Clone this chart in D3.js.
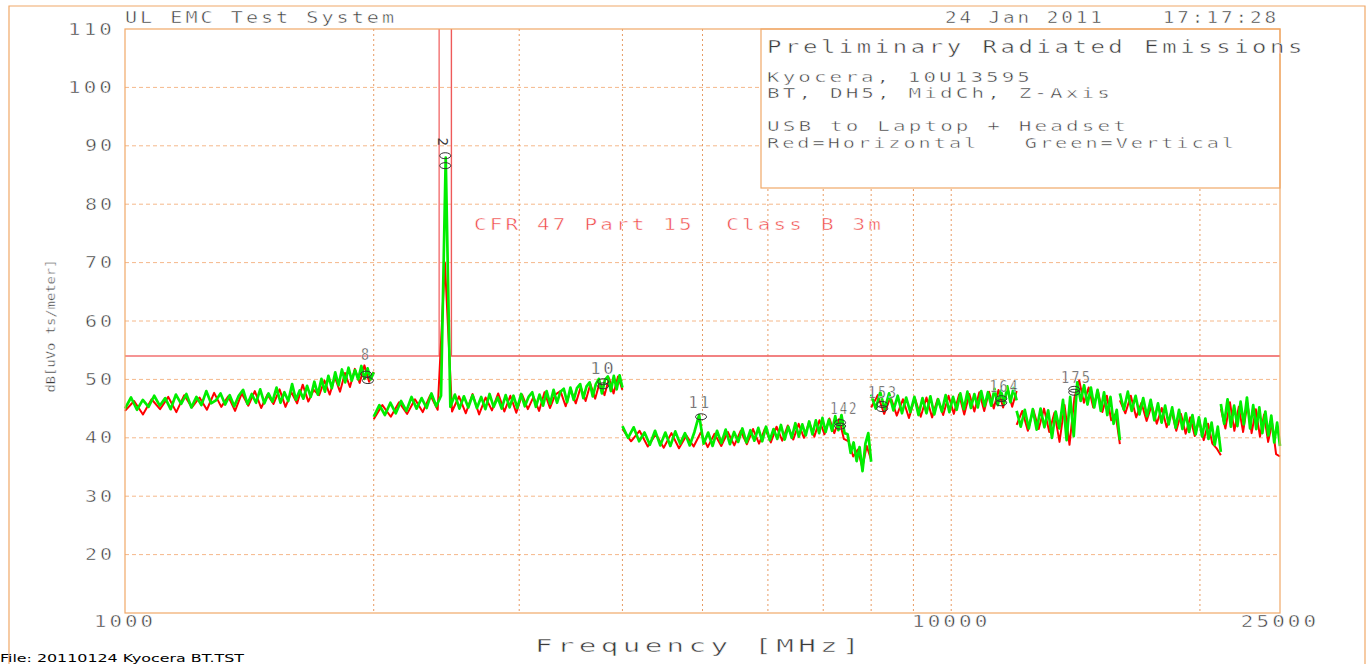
<!DOCTYPE html>
<html>
<head>
<meta charset="utf-8">
<script src="https://cdn.jsdelivr.net/npm/d3@7"></script>
<style>
  body { margin: 0; background: #fff; }
  svg { display: block; }
  text { white-space: pre; }
</style>
</head>
<body>
<div id="container"></div>
<script>
// sweep segments (MHz)
const segStart = [1000, 2000, 4000, 8000, 12000, 16000, 21200]
const segStop  = [2000, 4000, 8000, 12000, 16000, 21200, 25000]

// Vertical polarisation (green), dBuV/m, evenly spaced over each segment
const greenA = [45.0, 46.9, 44.8, 46.5, 45.3, 47.2, 45.5, 46.8, 44.9, 47.4,
  45.8, 47.5, 45.2, 47.0, 45.6, 48.0, 45.9, 46.4, 47.6, 45.7,
  47.3, 45.4, 47.2, 48.2, 45.8, 47.5, 46.0, 48.3, 45.9, 47.6,
  46.2, 48.6, 46.0, 47.8, 46.3, 49.2, 46.5, 48.1, 46.7, 48.9,
  47.0, 49.6, 47.4, 50.1, 47.9, 50.6, 48.5, 51.2, 49.0, 51.7,
  49.5, 52.0, 49.8, 51.6, 50.0, 52.3, 50.1, 51.9, 50.0, 51.2]
const greenB = [43.6, 45.6, 43.9, 46.0, 44.2, 46.3, 44.6, 47.0, 45.0, 46.8,
  45.1, 47.6, 45.4, 47.2, 88.0, 45.3, 47.4, 45.0, 47.1, 45.2,
  47.3, 45.1, 47.0, 44.9, 47.5, 45.3, 46.9, 45.0, 47.3, 45.2,
  47.2, 45.1, 47.5, 45.4, 47.0, 47.8, 45.3, 47.4, 45.5, 48.0,
  45.8, 48.2, 46.0, 47.9, 48.4, 46.1, 48.6, 46.5, 48.5, 49.2,
  46.8, 48.8, 49.5, 47.1, 49.2, 50.1, 47.6, 49.9, 50.5, 48.0,
  50.6, 48.3, 50.7, 48.6]
const greenC = [42.0, 40.0, 41.8, 39.4, 40.9, 38.8, 41.2, 38.7, 40.9, 38.6,
  41.1, 39.0, 40.8, 38.7, 41.0, 43.9, 39.0, 40.9, 38.6, 41.2,
  39.1, 41.4, 38.9, 41.0, 39.3, 41.6, 39.2, 41.3, 39.5, 41.7,
  39.4, 41.9, 39.6, 41.5, 39.8, 42.2, 39.7, 41.9, 40.0, 42.5,
  40.2, 42.3, 40.4, 42.8, 40.6, 43.0, 40.8, 43.4, 41.0, 43.1,
  41.2, 43.7, 41.3, 43.9, 40.8, 40.6, 37.4, 39.2, 36.0, 38.4,
  34.3, 39.0, 40.8, 35.9]
const greenD = [47.4, 45.0, 47.8, 44.9, 47.6, 44.7, 47.2, 44.2, 46.9, 44.4,
  47.0, 43.9, 46.8, 44.2, 47.1, 44.0, 46.6, 44.5, 47.3, 44.4,
  47.0, 44.8, 47.6, 44.9, 47.9, 45.1, 47.5, 45.2, 48.0, 45.4,
  47.8, 45.5, 48.4, 45.6, 48.1, 45.9, 48.8, 46.1, 48.5, 46.4]
const greenE = [44.6, 41.9, 44.8, 41.6, 44.9, 41.4, 45.0, 41.8, 44.7, 40.0,
  44.5, 41.6, 46.5, 39.6, 47.0, 40.3, 49.5, 46.3, 49.0, 45.7,
  48.6, 45.2, 48.2, 44.6, 47.8, 43.9, 47.0, 42.4, 44.8, 39.6]
const greenF = [47.6, 44.8, 47.9, 44.6, 47.2, 44.0, 46.8, 43.7, 46.5, 43.0,
  45.9, 42.6, 45.5, 42.3, 45.2, 41.7, 44.8, 41.5, 44.2, 41.0,
  43.9, 40.6, 43.5, 40.2, 43.3, 39.8, 42.6, 38.8, 41.9, 37.6]
const greenG = [45.8, 42.4, 46.6, 41.9, 45.5, 42.0, 46.2, 42.3, 46.9, 41.6,
  45.6, 41.5, 45.2, 40.8, 44.5, 40.4, 43.8, 39.2, 42.6, 38.6]

// Horizontal polarisation (red)
const redA = [44.6, 46.3, 44.0, 46.6, 44.9, 47.0, 44.4, 47.3, 45.2, 46.9,
  44.8, 47.7, 45.3, 47.1, 44.6, 47.6, 45.5, 48.0, 45.1, 47.4,
  45.8, 48.3, 45.3, 47.8, 45.9, 49.1, 46.2, 48.2, 47.3, 49.8,
  47.4, 50.4, 47.9, 51.1, 48.7, 51.8, 49.4, 52.4, 49.6, 51.3]
const redB = [43.2, 45.6, 43.6, 46.1, 44.1, 46.6, 44.4, 47.3, 44.8, 70.0,
  44.5, 47.1, 44.2, 47.5, 44.0, 46.9, 44.7, 47.6, 44.5, 47.2,
  44.3, 47.4, 44.9, 47.0, 44.6, 47.8, 45.1, 47.4, 48.0, 45.4,
  48.3, 45.9, 48.7, 46.3, 49.2, 46.7, 49.6, 47.3, 50.2, 47.6,
  50.5, 48.2]
const redC = [41.5, 39.4, 41.2, 38.5, 40.6, 38.3, 40.8, 38.2, 40.4, 38.5,
  40.9, 38.4, 40.7, 38.6, 41.0, 38.7, 41.2, 38.9, 41.5, 39.0,
  41.6, 39.2, 41.9, 39.5, 42.1, 39.7, 42.4, 40.0, 42.7, 40.2,
  43.0, 40.6, 43.3, 40.8, 43.2, 39.8, 39.4, 36.8, 38.0, 34.9,
  38.6, 36.2]
const redD = [45.2, 47.3, 44.1, 47.0, 43.8, 46.6, 43.4, 46.8, 43.6, 46.9,
  43.5, 46.7, 43.9, 47.2, 44.1, 47.4, 44.0, 47.5, 44.5, 47.8,
  44.6, 47.9, 45.0, 48.2, 45.2, 48.4, 45.3, 48.0]
const redE = [42.2, 44.6, 41.2, 44.8, 41.5, 45.0, 41.0, 44.3, 39.3, 45.6,
  38.8, 46.8, 49.8, 46.0, 48.6, 45.2, 48.1, 44.4, 47.2, 43.0,
  44.1, 38.9]
const redF = [46.4, 44.2, 47.2, 43.5, 46.0, 42.9, 45.6, 42.4, 45.1, 41.8,
  44.6, 41.2, 44.1, 40.7, 43.5, 40.3, 43.0, 39.6, 42.4, 39.0,
  38.2, 37.0]
const redG = [45.0, 41.6, 46.1, 41.2, 45.3, 41.0, 45.9, 40.8, 44.9, 40.2,
  44.0, 39.3, 42.5, 37.2, 36.8]

const greenSegs = [greenA, greenB, greenC, greenD, greenE, greenF, greenG]
const redSegs = [redA, redB, redC, redD, redE, redF, redG]

// FCC Part 15 class B limit, with the restricted band gap
const limitFreqA = [1000, 2400, 2400]
const limitLevA = [54, 54, 110]
const limitFreqB = [2483.5, 2483.5, 25000]
const limitLevB = [110, 54, 54]

// markers
const markerFreqs = [2441, 2441, 1958, 1968, 3791, 3791, 4980, 7337, 7337, 8251, 8251, 11497, 11497, 14088, 14088]
const markerLevels = [88.3, 86.6, 50.9, 49.8, 49.6, 48.9, 43.6, 42.6, 42.0, 45.7, 45.0, 46.7, 46.0, 48.3, 47.8]
const markerLabels = ["8", "10", "11", "142", "153", "164", "175"]
const markerLabelFreqs = [1958, 3791, 4966, 7424, 8270, 11603, 14178]
const markerLabelLevels = [54.2, 51.9, 46.0, 45.0, 47.8, 48.7, 50.4]
const markerLabelWidths = [10, 26, 23, 28, 30, 30, 31]

const yTicks = [20, 30, 40, 50, 60, 70, 80, 90, 100, 110]
const xTickVals = [1000, 10000, 25000]
const xGrid = [2000, 3000, 4000, 5000, 6000, 7000, 8000, 9000, 10000, 20000]

main()

function main() {
    const width = 1368
    const height = 664
    const left = 125, right = 1280, top = 29, bottom = 613

    const orange = "#f0a868"
    const font = "DejaVu Sans Mono, monospace"

    const x = d3.scaleLog().domain([1000, 25000]).range([left, right])
    const y = d3.scaleLinear().domain([10, 110]).range([bottom, top])

    const svg = d3.create("svg")
        .attr("width", width)
        .attr("height", height)

    // plotter-like text: stretched to a given length, thinned with a white edge
    function plotText(str, px, py, size, len, color, anchor) {
        return svg.append("text")
            .attr("x", px)
            .attr("y", py)
            .attr("font-family", font)
            .attr("font-size", size)
            .attr("letter-spacing", "0.15em")
            .attr("textLength", len)
            .attr("lengthAdjust", "spacingAndGlyphs")
            .attr("text-anchor", anchor || "start")
            .attr("fill", color || "#3a3a3a")
            .attr("stroke", "#fff")
            .attr("stroke-width", 0.45)
            .text(str)
    }

    // outer frame
    svg.append("path")
        .attr("d", "M9,664 V6 H1365 V664")
        .attr("fill", "none")
        .attr("stroke", orange)
        .attr("stroke-width", 1.2)

    // grid
    svg.append("g").selectAll("line")
        .data(yTicks.filter(d => d < 110))
        .join("line")
        .attr("x1", left).attr("x2", right)
        .attr("y1", d => y(d)).attr("y2", d => y(d))
        .attr("stroke", "#f5b88a")
        .attr("stroke-dasharray", "4,3")

    svg.append("g").selectAll("line")
        .data(xGrid)
        .join("line")
        .attr("x1", d => x(d)).attr("x2", d => x(d))
        .attr("y1", top).attr("y2", bottom)
        .attr("stroke", "#e89a62")
        .attr("stroke-dasharray", "2,3")

    // legend box (white, covers the grid)
    svg.append("rect")
        .attr("x", 761).attr("y", top)
        .attr("width", right - 761).attr("height", 188 - top)
        .attr("fill", "#fff")
        .attr("stroke", orange)
        .attr("stroke-width", 1.2)

    // limit line
    const lim = d3.line().x(d => x(d[0])).y(d => y(d[1]))
    svg.append("path")
        .attr("d", lim(limitFreqA.map((f, i) => [f, limitLevA[i]])))
        .attr("fill", "none").attr("stroke", "#f27272").attr("stroke-width", 1.4)
    svg.append("path")
        .attr("d", lim(limitFreqB.map((f, i) => [f, limitLevB[i]])))
        .attr("fill", "none").attr("stroke", "#ee5a5a").attr("stroke-width", 1.4)

    // traces
    const trace = d3.line().x(d => x(d[0])).y(d => y(d[1]))
    function drawSegs(segs, color, w) {
        segs.forEach((vals, s) => {
            const f0 = segStart[s], f1 = segStop[s]
            const pts = vals.map((v, i) => [f0 + i * (f1 - f0) / (vals.length - 1), v])
            svg.append("path")
                .attr("d", trace(pts))
                .attr("fill", "none")
                .attr("stroke", color)
                .attr("stroke-width", w)
                .attr("stroke-linejoin", "round")
        })
    }
    drawSegs(redSegs, "#ff0000", 2.0)
    drawSegs(greenSegs, "#00ee00", 2.7)

    // markers
    svg.append("g").selectAll("ellipse")
        .data(markerFreqs.map((f, i) => [f, markerLevels[i]]))
        .join("ellipse")
        .attr("cx", d => x(d[0]))
        .attr("cy", d => y(d[1]))
        .attr("rx", 5.5).attr("ry", 3)
        .attr("fill", "none")
        .attr("stroke", "#333")
        .attr("stroke-width", 1)

    markerLabels.forEach((t, i) => {
        plotText(t, x(markerLabelFreqs[i]), y(markerLabelLevels[i]) + 5.5, 15, markerLabelWidths[i], "#3a3a3a", "middle")
    })
    // carrier marker label, drawn sideways
    svg.append("text")
        .attr("transform", `translate(${x(2427)},${y(90.7)}) rotate(90)`)
        .attr("font-family", font)
        .attr("font-size", 14)
        .attr("text-anchor", "middle")
        .attr("dy", "0.35em")
        .attr("fill", "#3a3a3a")
        .text("2")

    // plot frame
    svg.append("rect")
        .attr("x", left).attr("y", top)
        .attr("width", right - left).attr("height", bottom - top)
        .attr("fill", "none")
        .attr("stroke", orange)
        .attr("stroke-width", 1.2)

    // y tick labels
    yTicks.forEach(t => {
        const s = String(t)
        plotText(s, 115, y(t) + 5.5, 15, s.length * 17 - 4, "#3a3a3a", "end")
    })
    // x tick labels
    xTickVals.forEach(t => {
        const s = String(t)
        plotText(s, x(t), 627, 15, s.length * 16.3 - 3, "#3a3a3a", "middle")
    })

    // titles and texts
    plotText("UL EMC Test System", 125, 23, 15, 272)
    plotText("24 Jan 2011    17:17:28", 945, 23, 15, 334)
    plotText("Preliminary Radiated Emissions", 767, 53, 18, 539)
    plotText("Kyocera, 10U13595", 767, 82, 14.5, 266)
    plotText("BT, DH5, MidCh, Z-Axis", 767, 98, 14.5, 346)
    plotText("USB to Laptop + Headset", 767, 131, 13.5, 362)
    plotText("Red=Horizontal   Green=Vertical", 767, 148, 13.5, 470)
    plotText("CFR 47 Part 15  Class B 3m", 474, 230, 15, 410, "#f04848")
    plotText("Frequency [MHz]", 535, 652, 18, 329)

    svg.append("text")
        .attr("transform", "translate(55,326) rotate(-90)")
        .attr("font-family", font)
        .attr("font-size", 13)
        .attr("text-anchor", "middle")
        .attr("textLength", 133)
        .attr("lengthAdjust", "spacingAndGlyphs")
        .attr("fill", "#3a3a3a")
        .attr("stroke", "#fff")
        .attr("stroke-width", 0.4)
        .text("dB[uVo ts/meter]")

    svg.append("text")
        .attr("x", 0).attr("y", 662)
        .attr("font-family", "DejaVu Sans, sans-serif")
        .attr("font-size", 10)
        .attr("textLength", 244)
        .attr("lengthAdjust", "spacingAndGlyphs")
        .attr("fill", "#000")
        .text("File: 20110124 Kyocera BT.TST")

    container.append(svg.node())
}
</script>
</body>
</html>
